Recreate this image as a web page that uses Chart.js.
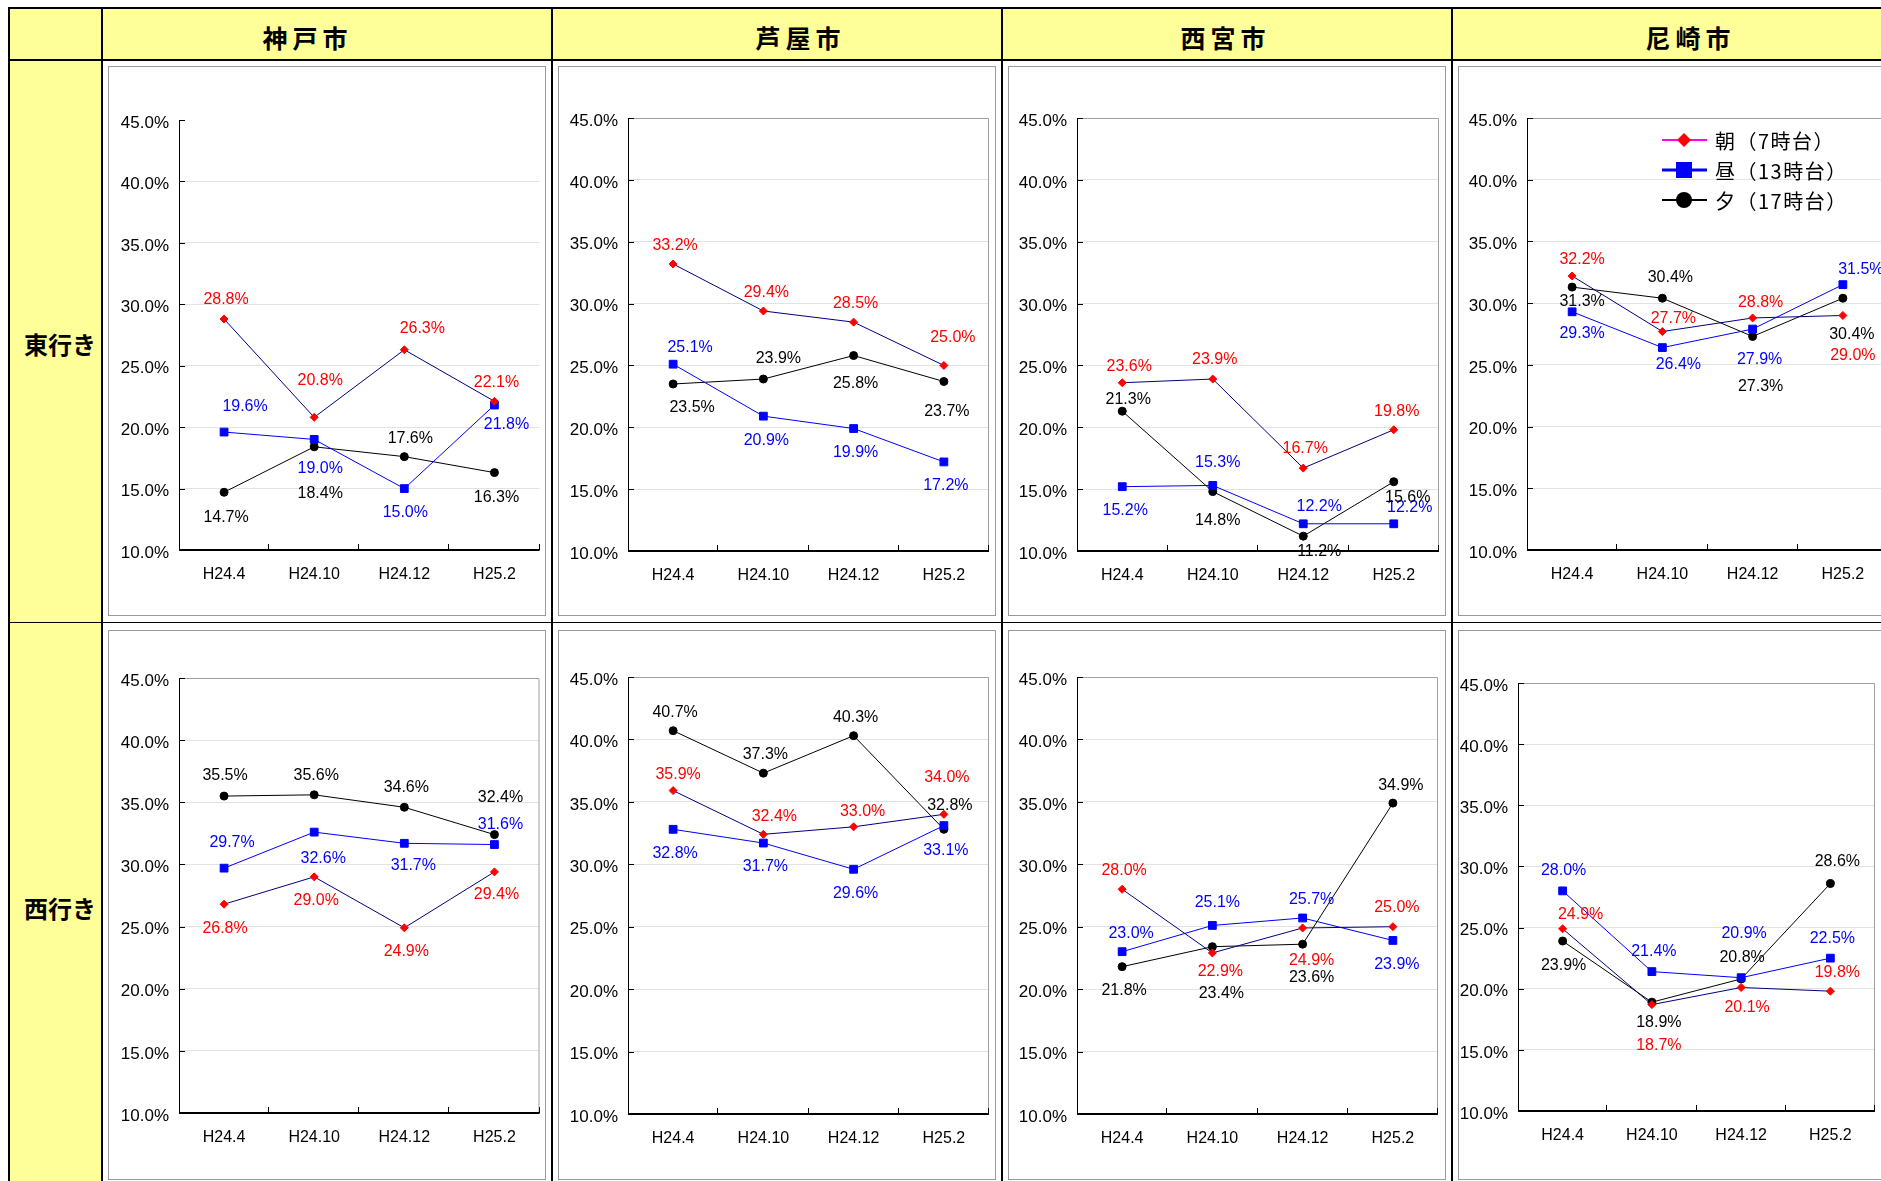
<!DOCTYPE html>
<html lang="ja">
<head>
<meta charset="UTF-8">
<title>時間帯別 混雑率の推移</title>
<script src="https://cdn.jsdelivr.net/npm/chart.js"></script>
<style>
  html, body { margin: 0; padding: 0; background: #fff; }
  body { width: 1881px; height: 1181px; overflow: hidden; position: relative; font-family: 'Noto Sans CJK JP', sans-serif; }
  .fill { position: absolute; background: #ffff99; }
  .line { position: absolute; background: #000; }
  .head { position: absolute; top: 14px; height: 46px; line-height: 46px; width: 300px; text-align: center;
          font-size: 25px; font-weight: bold; letter-spacing: 5px; text-indent: 5px; }
  .dir { position: absolute; left: 14px; width: 92px; height: 36px; line-height: 36px; text-align: center;
         font-size: 24px; font-weight: bold; }
  canvas { position: absolute; }
</style>
</head>
<body>
  <!-- 表の背景と罫線 -->
  <div class="fill" style="left:10px; top:9px; width:1871px; height:50px;"></div>
  <div class="fill" style="left:10px; top:61px; width:91px; height:1120px;"></div>
  <div class="line" style="left:8px; top:7px; width:1873px; height:2px;"></div>
  <div class="line" style="left:8px; top:7px; width:2px; height:1174px;"></div>
  <div class="line" style="left:8px; top:59px; width:1873px; height:2px;"></div>
  <div class="line" style="left:8px; top:622px; width:1873px; height:1px;"></div>
  <div class="line" style="left:101px; top:7px; width:2px; height:1174px;"></div>
  <div class="line" style="left:551px; top:7px; width:2px; height:1174px;"></div>
  <div class="line" style="left:1001px; top:7px; width:2px; height:1174px;"></div>
  <div class="line" style="left:1451px; top:7px; width:2px; height:1174px;"></div>

<script>
const periods = ['H24.4', 'H24.10', 'H24.12', 'H25.2'];
const seriesNames = ['朝（7時台）', '昼（13時台）', '夕（17時台）'];
const cities = ['神戸市', '芦屋市', '西宮市', '尼崎市'];
const directions = ['東行き', '西行き'];
const yMin = 10, yMax = 45, yStep = 5;

// 東行き  (行: 朝, 昼, 夕)
const kobeEast = [[28.8, 20.8, 26.3, 22.1], [19.6, 19.0, 15.0, 21.8], [14.7, 18.4, 17.6, 16.3]];
const ashiyaEast = [[33.2, 29.4, 28.5, 25.0], [25.1, 20.9, 19.9, 17.2], [23.5, 23.9, 25.8, 23.7]];
const nishinomiyaEast = [[23.6, 23.9, 16.7, 19.8], [15.2, 15.3, 12.2, 12.2], [21.3, 14.8, 11.2, 15.6]];
const amagasakiEast = [[32.2, 27.7, 28.8, 29.0], [29.3, 26.4, 27.9, 31.5], [31.3, 30.4, 27.3, 30.4]];
// 西行き
const kobeWest = [[26.8, 29.0, 24.9, 29.4], [29.7, 32.6, 31.7, 31.6], [35.5, 35.6, 34.6, 32.4]];
const ashiyaWest = [[35.9, 32.4, 33.0, 34.0], [32.8, 31.7, 29.6, 33.1], [40.7, 37.3, 40.3, 32.8]];
const nishinomiyaWest = [[28.0, 22.9, 24.9, 25.0], [23.0, 25.1, 25.7, 23.9], [21.8, 23.4, 23.6, 34.9]];
const amagasakiWest = [[24.9, 18.7, 20.1, 19.8], [28.0, 21.4, 20.9, 22.5], [23.9, 18.9, 20.8, 28.6]];

// データラベルのずらし量 [dx, dy]
const kobeEastLbl = [[[2,-19],[6,-37],[18,-21],[2,-19]], [[21,-25],[6,29],[1,24],[12,20]], [[2,25],[6,47],[6,-18],[2,25]]];
const ashiyaEastLbl = [[[2,-18],[3,-18],[2,-19],[9,-28]], [[17,-17],[3,24],[2,24],[2,24]], [[19,24],[15,-20],[2,28],[3,30]]];
const nishinomiyaEastLbl = [[[7,-16],[2,-19],[2,-20],[3,-18]], [[3,24],[5,-23],[16,-17],[16,-16]], [[6,-12],[5,29],[16,15],[14,16]]];
const amagasakiEastLbl = [[[10,-16],[11,-13],[8,-15],[10,40]], [[10,22],[16,17],[7,31],[18,-15]], [[10,14],[8,-21],[8,50],[9,36]]];
const kobeWestLbl = [[[1,24],[2,24],[2,24],[2,23]], [[8,-26],[9,26],[9,22],[6,-20]], [[1,-20],[2,-19],[2,-20],[6,-37]]];
const ashiyaWestLbl = [[[5,-16],[11,-18],[9,-15],[3,-37]], [[2,24],[2,24],[2,24],[2,25]], [[2,-18],[2,-19],[2,-18],[6,-24]]];
const nishinomiyaWestLbl = [[[2,-19],[8,19],[9,33],[4,-19]], [[9,-18],[5,-23],[9,-18],[4,24]], [[2,24],[9,47],[9,33],[8,-18]]];
const amagasakiWestLbl = [[[18,-14],[7,41],[6,20],[7,-19]], [[1,-20],[2,-20],[3,-44],[2,-20]], [[1,25],[7,20],[1,-21],[7,-22]]];

const seriesStyle = [
  { line: '#000080', point: '#ff0000', shape: 'rectRot', r: 4, label: '#ff0000', legendLine: '#ff00ff', legendWidth: 2, legendR: 7 },
  { line: '#0000ff', point: '#0000ff', shape: 'rect', r: 5.5, label: '#0000ff', legendLine: '#0000ff', legendWidth: 3, legendR: 8 },
  { line: '#000000', point: '#000000', shape: 'circle', r: 4, label: '#000000', legendLine: '#000000', legendWidth: 2, legendR: 8 }
];

// 各グラフ: 行, 列, データ, ラベル位置, 描画領域 [左, 上, 右, 下]
const panels = [
  { row: 0, col: 0, values: kobeEast, lbl: kobeEastLbl, geo: [71, 54, 433, 484], outline: false },
  { row: 0, col: 1, values: ashiyaEast, lbl: ashiyaEastLbl, geo: [70, 52, 431, 485], outline: true },
  { row: 0, col: 2, values: nishinomiyaEast, lbl: nishinomiyaEastLbl, geo: [69, 52, 431, 485], outline: true },
  { row: 0, col: 3, values: amagasakiEast, lbl: amagasakiEastLbl, geo: [69, 52, 430, 484], outline: true, legend: true },
  { row: 1, col: 0, values: kobeWest, lbl: kobeWestLbl, geo: [71, 48, 432, 483], outline: true },
  { row: 1, col: 1, values: ashiyaWest, lbl: ashiyaWestLbl, geo: [70, 47, 431, 484], outline: true },
  { row: 1, col: 2, values: nishinomiyaWest, lbl: nishinomiyaWestLbl, geo: [69, 47, 430, 484], outline: true },
  { row: 1, col: 3, values: amagasakiWest, lbl: amagasakiWestLbl, geo: [60, 53, 417, 481], outline: true }
];

const CW = 438, CH = 550;
const latin = "'Liberation Sans', Arial, sans-serif";

// 見出し
const headCenters = [305, 798, 1223, 1688];
cities.forEach((name, i) => {
  const d = document.createElement('div');
  d.className = 'head';
  d.style.left = (headCenters[i] - 150) + 'px';
  d.textContent = name;
  document.body.appendChild(d);
});
directions.forEach((name, i) => {
  const d = document.createElement('div');
  d.className = 'dir';
  d.style.top = (i ? 890 : 326) + 'px';
  d.textContent = name;
  document.body.appendChild(d);
});

function drawMarker(ctx, shape, x, y, r) {
  ctx.beginPath();
  if (shape === 'rectRot') {
    ctx.moveTo(x, y - r); ctx.lineTo(x + r, y); ctx.lineTo(x, y + r); ctx.lineTo(x - r, y); ctx.closePath();
  } else if (shape === 'rect') {
    ctx.rect(x - r, y - r, 2 * r, 2 * r);
  } else {
    ctx.arc(x, y, r, 0, Math.PI * 2);
  }
  ctx.fill();
}

const boxPlugin = {
  id: 'box',
  beforeDraw(chart) {
    const c = chart.ctx;
    c.save();
    c.fillStyle = '#fff';
    c.fillRect(0, 0, chart.width, chart.height);
    c.strokeStyle = '#9a9a9a';
    c.lineWidth = 1;
    c.strokeRect(0.5, 0.5, chart.width - 1, chart.height - 1);
    c.restore();
  }
};

// 軸線・内向き目盛・外枠
const framePlugin = {
  id: 'frame',
  beforeDatasetsDraw(chart) {
    const p = chart.canvas._panel;
    const { ctx, chartArea: a, scales: { x, y } } = chart;
    ctx.save();
    if (p.outline) {
      ctx.strokeStyle = '#a0a0a0';
      ctx.lineWidth = 1;
      ctx.beginPath();
      ctx.moveTo(a.left, a.top + 0.5);
      ctx.lineTo(a.right - 0.5, a.top + 0.5);
      ctx.lineTo(a.right - 0.5, a.bottom);
      ctx.stroke();
    }
    ctx.strokeStyle = '#000';
    ctx.lineWidth = 1;
    ctx.beginPath();
    ctx.moveTo(a.left + 0.5, a.top);
    ctx.lineTo(a.left + 0.5, a.bottom);
    y.ticks.forEach(t => {
      const py = Math.round(y.getPixelForValue(t.value)) + 0.5;
      ctx.moveTo(a.left, py);
      ctx.lineTo(a.left + 6, py);
    });
    for (let i = 1; i <= periods.length; i++) {
      const px = Math.round(x.getPixelForValue(i - 0.5)) - 0.5;
      ctx.moveTo(px, a.bottom);
      ctx.lineTo(px, a.bottom - 6);
    }
    ctx.stroke();
    ctx.lineWidth = 2;
    ctx.beginPath();
    ctx.moveTo(a.left, a.bottom);
    ctx.lineTo(a.right, a.bottom);
    ctx.stroke();
    ctx.restore();
  }
};

// 値ラベル
const labelPlugin = {
  id: 'pointLabels',
  afterDatasetsDraw(chart) {
    const p = chart.canvas._panel;
    const ctx = chart.ctx;
    ctx.save();
    ctx.font = '16px ' + latin;
    ctx.textAlign = 'center';
    ctx.textBaseline = 'middle';
    chart.data.datasets.forEach((ds, si) => {
      chart.getDatasetMeta(si).data.forEach((pt, i) => {
        const [dx, dy] = p.lbl[si][i];
        ctx.fillStyle = seriesStyle[si].label;
        ctx.fillText(ds.data[i].toFixed(1) + '%', pt.x + dx, pt.y + dy);
      });
    });
    ctx.restore();
  }
};

// 凡例（尼崎市・東行きのみ）
const legendPlugin = {
  id: 'seriesLegend',
  afterDraw(chart) {
    const p = chart.canvas._panel;
    if (!p.legend) return;
    const ctx = chart.ctx;
    const lx = 204, ly = 74, gap = 30;
    ctx.save();
    ctx.font = "20px 'Noto Sans CJK JP', sans-serif";
    ctx.letterSpacing = '1.5px';
    ctx.textAlign = 'left';
    ctx.textBaseline = 'middle';
    seriesNames.forEach((name, i) => {
      const st = seriesStyle[i];
      const yy = ly + i * gap;
      ctx.strokeStyle = st.legendLine;
      ctx.lineWidth = st.legendWidth;
      ctx.beginPath();
      ctx.moveTo(lx, yy);
      ctx.lineTo(lx + 45, yy);
      ctx.stroke();
      ctx.fillStyle = st.point;
      drawMarker(ctx, st.shape, lx + 22, yy, st.legendR);
      ctx.fillStyle = '#000';
      ctx.fillText(name, lx + 53, yy + 1);
    });
    ctx.restore();
  }
};

panels.forEach(p => {
  const cv = document.createElement('canvas');
  cv.width = CW;
  cv.height = CH;
  cv.style.left = (108 + 450 * p.col) + 'px';
  cv.style.top = (p.row ? 630 : 66) + 'px';
  cv._panel = p;
  document.body.appendChild(cv);
  const [gl, gt, gr, gb] = p.geo;

  new Chart(cv, {
    type: 'line',
    data: {
      labels: periods,
      datasets: p.values.map((vals, si) => ({
        label: seriesNames[si],
        data: vals,
        borderColor: seriesStyle[si].line,
        borderWidth: 1,
        pointStyle: seriesStyle[si].shape,
        pointRadius: seriesStyle[si].r,
        pointBackgroundColor: seriesStyle[si].point,
        pointBorderColor: seriesStyle[si].point,
        pointBorderWidth: 1,
        tension: 0,
        fill: false
      }))
    },
    options: {
      responsive: false,
      animation: false,
      devicePixelRatio: 1,
      layout: { padding: { left: 0, top: gt, right: CW - gr, bottom: 0 } },
      plugins: { legend: { display: false }, tooltip: { enabled: false } },
      scales: {
        x: {
          offset: true,
          grid: { display: false, drawTicks: false },
          border: { display: false },
          ticks: { color: '#000', font: { family: latin, size: 16 }, padding: 15, maxRotation: 0, autoSkip: false },
          afterFit: s => { s.height = CH - gb; }
        },
        y: {
          min: yMin,
          max: yMax,
          grid: {
            drawTicks: false,
            lineWidth: 1,
            color: c => (c.tick && (c.tick.value === yMin || c.tick.value === yMax)) ? 'rgba(0,0,0,0)' : '#e2e2e2'
          },
          border: { display: false },
          ticks: {
            stepSize: yStep,
            color: '#000',
            font: { family: latin, size: 17 },
            padding: 10,
            labelOffset: 3,
            callback: v => v.toFixed(1) + '%'
          },
          afterFit: s => { s.width = gl; }
        }
      }
    },
    plugins: [boxPlugin, framePlugin, labelPlugin, legendPlugin]
  });
});
</script>
</body>
</html>
